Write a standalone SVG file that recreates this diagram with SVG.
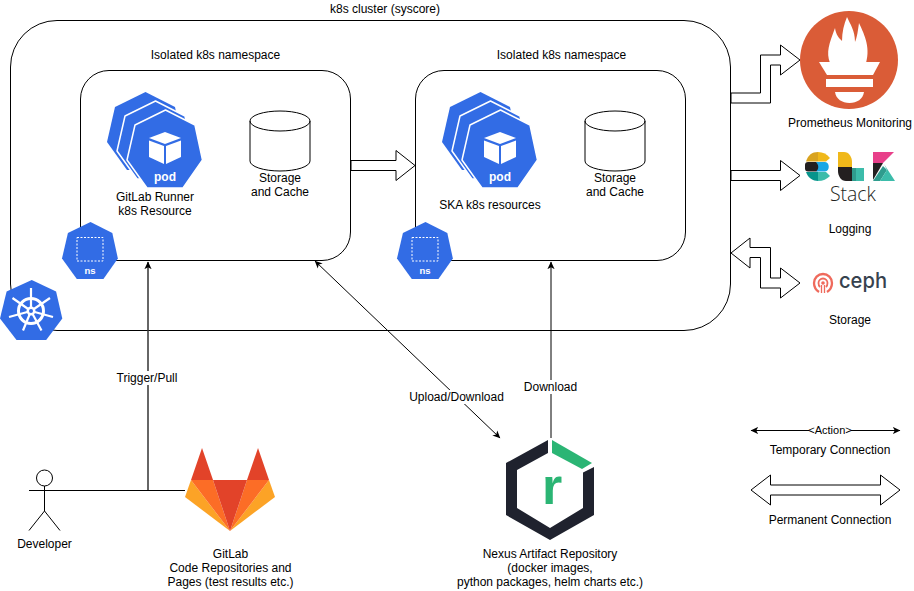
<svg xmlns="http://www.w3.org/2000/svg" xmlns:xlink="http://www.w3.org/1999/xlink" width="914" height="591" viewBox="0 0 914 591">
<style>
text{font-family:"Liberation Sans",Arial,sans-serif;font-size:12px;fill:#000;text-anchor:middle}
.box{fill:#fff;stroke:#000;stroke-width:1}
.flex{fill:#fff;stroke:#000;stroke-width:1;stroke-linejoin:miter}
.line{fill:none;stroke:#000;stroke-width:1}
.thick{fill:none;stroke:#333;stroke-width:1.5}
.hep{fill:#326ce5;stroke-linejoin:round}
.bg{fill:#fff}
.podlab{fill:#fff;font-weight:bold;font-size:12px}
.nslab{fill:#fff;font-weight:bold;font-size:9.500px}
</style>
<defs>
<polygon id="hept" points="38.5,0 68,15 75.5,50 56,78 20,78 0,50 8,15"/>
<marker id="tri" viewBox="0 0 10 10" refX="9" refY="5" markerWidth="8" markerHeight="8" markerUnits="userSpaceOnUse" orient="auto-start-reverse"><path d="M0 0.5L9.5 5L0 9.5L2.5 5Z" fill="#000"/></marker>
<g id="podstack">
<use xlink:href="#hept" class="hep"/>
<use xlink:href="#hept" x="10" y="9" class="hep" stroke="#fff" stroke-width="1.500"/>
<use xlink:href="#hept" x="20" y="18" class="hep" stroke="#fff" stroke-width="1.500"/>
<path d="M58 40L74 46L58 52L42 46Z" fill="#fff"/>
<path d="M42 48.500L57 54V72L42 65Z" fill="#fff"/>
<path d="M74 48.500L59 54V72L74 65Z" fill="#fff"/>
<text x="58" y="89" class="podlab">pod</text>
</g>
<g id="nsicon">
<g transform="scale(0.74,0.73)"><use xlink:href="#hept" class="hep"/></g>
<rect x="15" y="15.500" width="26" height="23.500" fill="none" stroke="#fff" stroke-width="1" stroke-dasharray="2 1.500"/>
<text x="28" y="52" class="nslab">ns</text>
</g>
<g id="cyl">
<path d="M0 10A30 10 0 0 1 60 10V50A30 10 0 0 1 0 50Z" class="box"/>
<path d="M0 10A30 10 0 0 0 60 10" class="line"/>
</g>
</defs>
<rect width="914" height="591" fill="#fff"/>

<g id="cluster">
<rect x="10.5" y="20.5" width="720" height="310" rx="46.5" ry="46.5" class="box"/>
<text x="385" y="13">k8s cluster (syscore)</text>
</g>

<g id="namespace-1">
<rect x="80.5" y="70.5" width="270" height="190" rx="28.5" ry="28.5" class="box"/>
<text x="215.500" y="59">Isolated k8s namespace</text>
</g>
<g id="namespace-2">
<rect x="415.5" y="70.5" width="270" height="190" rx="28.5" ry="28.5" class="box"/>
<text x="561.500" y="59">Isolated k8s namespace</text>
</g>

<g id="connectors">
<path d="M29 490.5H185" class="line"/>
<path d="M148 490V262" class="thick" marker-end="url(#tri)"/>
<path d="M315 261L500 438" class="line" marker-start="url(#tri)" marker-end="url(#tri)"/>
<path d="M551 438V262" class="line" marker-end="url(#tri)"/>
<polygon points="351,160.500 396,160.500 396,150.500 415,165.500 396,180.500 396,170.500 351,170.500" class="flex"/>
<polygon points="731,93 760.500,93 760.500,55 780.500,55 780.500,45 800,60 780.500,75 780.500,65 770.500,65 770.500,103 731,103" class="flex"/>
<polygon points="731,170.500 780.500,170.500 780.500,160.500 800,175.500 780.500,190.500 780.500,180.500 731,180.500" class="flex"/>
<polygon points="731,253 750,238 750,247.500 770.500,247.500 770.500,278 780.500,278 780.500,268 800,283 780.500,298 780.500,288 760.500,288 760.500,257.500 750,257.500 750,268" class="flex"/>
<rect x="114" y="371" width="67" height="14" class="bg"/>
<text x="147" y="382">Trigger/Pull</text>
<rect x="408" y="390" width="97" height="14" class="bg"/>
<text x="456.500" y="401">Upload/Download</text>
<rect x="522" y="380" width="57" height="14" class="bg"/>
<text x="550.500" y="391">Download</text>
</g>

<g id="gitlab-runner">
<use xlink:href="#podstack" x="107" y="92"/>
<text x="155" y="201">GitLab Runner</text>
<text x="155" y="215">k8s Resource</text>
</g>
<g id="storage-1">
<use xlink:href="#cyl" x="250" y="111"/>
<text x="280" y="182">Storage</text>
<text x="280" y="196">and Cache</text>
</g>
<g id="ns-1"><use xlink:href="#nsicon" x="62" y="222"/></g>

<g id="ska-resources">
<use xlink:href="#podstack" x="442" y="92"/>
<text x="490" y="209">SKA k8s resources</text>
</g>
<g id="storage-2">
<use xlink:href="#cyl" x="585" y="111"/>
<text x="615" y="182">Storage</text>
<text x="615" y="196">and Cache</text>
</g>
<g id="ns-2"><use xlink:href="#nsicon" x="397" y="222"/></g>

<g id="k8s-icon">
<g transform="translate(0,280) scale(0.825,0.77)"><use xlink:href="#hept" class="hep"/></g>
<g fill="none" stroke="#fff">
<circle cx="31" cy="311" r="12.500" stroke-width="3"/>
<path d="M31 288V311M50 298L31 311M12.500 298L31 311M9 317L31 311M53 317L31 311M23 330.500L31 311M41.500 330.500L31 311" stroke-width="2.200"/>
</g>
<circle cx="31" cy="311" r="4.500" fill="#fff"/>
<circle cx="31" cy="311" r="2" fill="#326ce5"/>
</g>

<g id="developer">
<circle cx="44.500" cy="478" r="8" fill="#fff" stroke="#000"/>
<path d="M44.500 486V511M29 490.500H60M44.500 511L29 530.500M44.500 511L60 530.500" class="line"/>
<text x="44.500" y="548">Developer</text>
</g>

<g id="gitlab">
<polygon points="202,448 191,480 213,480" fill="#e24329"/>
<polygon points="258,448 247,480 269,480" fill="#e24329"/>
<polygon points="191,480 185,497 230,531" fill="#fca326"/>
<polygon points="269,480 275,497 230,531" fill="#fca326"/>
<polygon points="191,480 213,480 230,531" fill="#fc6d26"/>
<polygon points="269,480 247,480 230,531" fill="#fc6d26"/>
<polygon points="213,480 247,480 230,531" fill="#e24329"/>
<text x="230.500" y="558">GitLab</text>
<text x="230.500" y="572">Code Repositories and</text>
<text x="230.500" y="586">Pages (test results etc.)</text>
</g>

<g id="nexus">
<path d="M506 463L548 440V453L517 470V508L550 528L583 508V472.500L594 467V515L550 540L506 515Z" fill="#1f222e"/>
<polygon points="552,440 592,463 582,469 552,453" fill="#2bb574"/>
<text x="552" y="504" style="font-size:52px;font-weight:bold;fill:#2bb574">r</text>
<text x="550" y="558">Nexus Artifact Repository</text>
<text x="550" y="572">(docker images,</text>
<text x="550" y="586">python packages, helm charts etc.)</text>
</g>

<g id="prometheus">
<circle cx="849" cy="60" r="49" fill="#da5c37"/>
<path d="M830 63C826 52 829 44 835 28C836 35 839 38 842 41C842 32 844 24 847 17C850 24 855 30 855 42C857 38 858 30 859 23C863 32 871 46 866 63Z" fill="#fff"/>
<polygon points="819,62 880,62 873,75 827,75" fill="#fff"/>
<rect x="826" y="79" width="47" height="8" fill="#fff"/>
<path d="M835 92H864C863 99 857 103 849.500 103C842 103 836 99 835 92Z" fill="#fff"/>
<text x="850" y="127">Prometheus Monitoring</text>
</g>

<g id="elk">
<path d="M806 161.500C808 155 812 152 818 152V161.500Z" fill="#d9a31f"/>
<path d="M818 152C823 152 827 154 830 158L826 161.500H818Z" fill="#f0b81a"/>
<rect x="805" y="162" width="14" height="9.500" rx="3" fill="#231f20"/>
<path d="M816 162H825C830 162 830 171.500 825 171.500H816C819 169 819 165 816 162Z" fill="#1ba7e4"/>
<path d="M806 172H818V181C813 181 808 178 806 172Z" fill="#07948c"/>
<path d="M818 172H826L830 176C827 179 823 181 818 181Z" fill="#3cbcaa"/>
<path d="M838 152H844C849 152 852 157 852 162V167H838Z" fill="#f0b81a"/>
<path d="M838 167H852V181H846C841 181 838 176 838 171Z" fill="#231f20"/>
<rect x="852" y="168" width="12" height="13" fill="#3cbcaa"/>
<rect x="852" y="168" width="4" height="13" fill="#2f9c8e"/>
<polygon points="873,152 894,152 883,163 873,163" fill="#e8408a"/>
<polygon points="873,163 883,163 873,180" fill="#231f20"/>
<polygon points="873,181 883,166 887,170 880,181" fill="#2f9c8e"/>
<polygon points="884,164 895,181 880,181 887,170" fill="#3cbcaa"/>
<text x="853" y="201" textLength="46" lengthAdjust="spacingAndGlyphs" style="font-family:'Open Sans',sans-serif;font-weight:300;font-size:21px;fill:#231f20">Stack</text>
<text x="850" y="233">Logging</text>
</g>

<g id="ceph">
<g fill="none" stroke="#ef6a5c">
<path d="M819 292C816 290 814 287 814 283A9 9 0 0 1 832 283C832 287 830 290 827 292" stroke-width="2.300"/>
<path d="M820 287C819 286 818.500 284.500 818.500 283A4.500 4.500 0 0 1 827.500 283C827.500 284.500 827 286 826 287" stroke-width="1.800"/>
<path d="M821.500 293V285M824.500 293V285" stroke-width="1.300"/>
</g>
<circle cx="823" cy="283" r="1.800" fill="#ef6a5c"/>
<text x="863" y="288" textLength="48" lengthAdjust="spacingAndGlyphs" style="font-family:Inter,sans-serif;font-size:21px;font-weight:500;fill:#36424e">ceph</text>
<text x="850" y="324">Storage</text>
</g>

<g id="legend">
<path d="M751 430.500H900" class="line" marker-start="url(#tri)" marker-end="url(#tri)"/>
<rect x="809" y="424" width="42" height="13" class="bg"/>
<text x="830" y="434" style="font-size:11px">&lt;Action&gt;</text>
<text x="830" y="454">Temporary Connection</text>
<polygon points="751,490 770.500,475 770.500,485 880.500,485 880.500,475 900,490 880.500,505 880.500,495 770.500,495 770.500,505" class="flex"/>
<text x="830" y="524">Permanent Connection</text>
</g>
</svg>
